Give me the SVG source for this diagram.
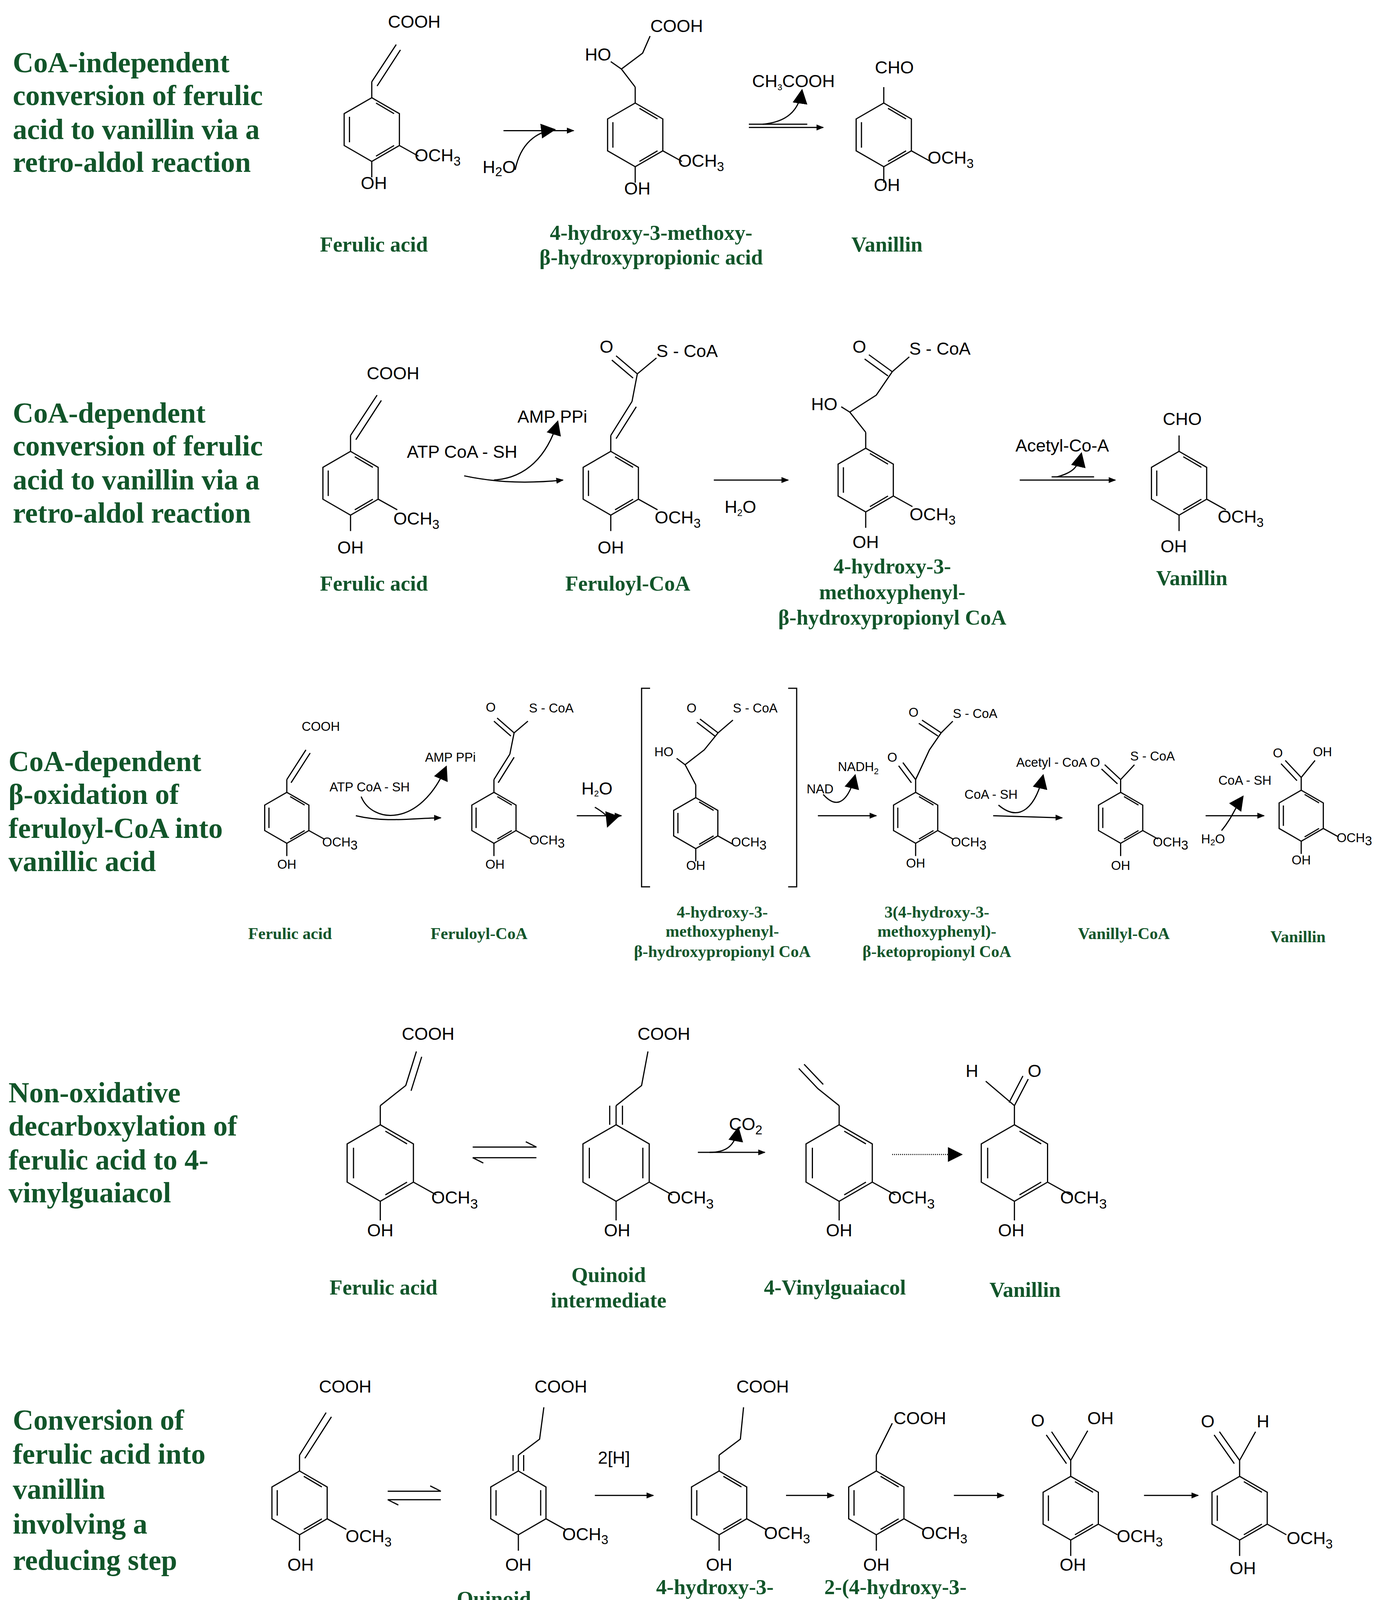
<svg xmlns="http://www.w3.org/2000/svg" width="3535" height="4259" viewBox="0 0 3535 4259">
<style>
.b{fill:none;stroke:#000;stroke-width:3;vector-effect:non-scaling-stroke}
.t{font-family:"Liberation Sans",Arial,sans-serif;font-size:16.5px;fill:#000;text-anchor:middle}
.st{text-anchor:start}
.s{font-size:12px}
.ti{font-family:"Liberation Serif","Times New Roman",serif;font-weight:bold;font-size:27px;fill:#12552a}
.l{font-family:"Liberation Serif","Times New Roman",serif;font-weight:bold;font-size:20px;fill:#12552a;text-anchor:middle}
.l2{font-size:15.5px}
.dot{stroke-dasharray:2 3}
</style>
<defs>
<marker id="ah" viewBox="0 0 10 10" refX="9" refY="5" markerWidth="7" markerHeight="7" orient="auto" markerUnits="userSpaceOnUse"><path d="M0,1 L10,5 L0,9 Z" fill="#000"/></marker>
<marker id="ah2" viewBox="0 0 10 10" refX="9" refY="5" markerWidth="14" markerHeight="14" orient="auto" markerUnits="userSpaceOnUse"><path d="M0,0 L10,5 L0,10 Z" fill="#000"/></marker>
<g id="bz">
<path class="b" d="M0,-30 L26,-15 L26,15 L0,30 L-26,15 L-26,-15 Z M-21,-12 L-21,12 M4,-25 L21,-15 M4,25 L21,15 M26,15 L44,25 M0,30 L0,45 M0,-30 L0,-45"/>
</g>
<g id="qd">
<path class="b" d="M0,-30 L26,-15 L26,15 L0,30 L-26,15 L-26,-15 Z M-21,-12 L-21,12 M21,-12 L21,12 M26,15 L44,25 M0,30 L0,45 M0,-30 L0,-45 M5,-30 L5,-45 M-5,-30 L-5,-45"/>
</g>
</defs>
<g transform="scale(2.719)">
<rect x="0" y="0" width="1300" height="1567" fill="#fff"/>
<g id="titles">
<text class="ti" x="12" y="68">CoA-independent</text><text class="ti" x="12" y="99">conversion of ferulic</text><text class="ti" x="12" y="131">acid to vanillin via a</text><text class="ti" x="12" y="162">retro-aldol reaction</text>
<text class="ti" x="12" y="398">CoA-dependent</text><text class="ti" x="12" y="429">conversion of ferulic</text><text class="ti" x="12" y="461">acid to vanillin via a</text><text class="ti" x="12" y="492">retro-aldol reaction</text>
<text class="ti" x="8" y="726">CoA-dependent</text><text class="ti" x="8" y="757">β-oxidation of</text><text class="ti" x="8" y="789">feruloyl-CoA into</text><text class="ti" x="8" y="820">vanillic acid</text>
<text class="ti" x="8" y="1038">Non-oxidative</text><text class="ti" x="8" y="1069">decarboxylation of</text><text class="ti" x="8" y="1101">ferulic acid to 4-</text><text class="ti" x="8" y="1132">vinylguaiacol</text>
<text class="ti" x="12" y="1346">Conversion of</text><text class="ti" x="12" y="1378">ferulic acid into</text><text class="ti" x="12" y="1411">vanillin</text><text class="ti" x="12" y="1444">involving a</text><text class="ti" x="12" y="1478">reducing step</text>
</g>
<!-- Row 1 -->
<g id="r1-ferulic"><use href="#bz" transform="translate(350,122)"/><path class="b" d="M350,77 L373,42 M355,81 L377,47"/><text class="t" x="390" y="26">COOH</text><text class="t" x="352" y="178">OH</text><text class="t" x="412" y="152">OCH<tspan class="s" dy="4">3</tspan></text></g>
<g id="r1-inter"><use href="#bz" transform="translate(598,127)"/><path class="b" d="M598,82 L585,65 M585,65 L575,58 M585,65 L605,50 L612,34"/><text class="t" x="563" y="57">HO</text><text class="t" x="637" y="30">COOH</text><text class="t" x="600" y="183">OH</text><text class="t" x="660" y="157">OCH<tspan class="s" dy="4">3</tspan></text></g>
<g id="r1-van"><use href="#bz" transform="translate(832,127)"/><text class="t" x="842" y="69">CHO</text><text class="t" x="835" y="180">OH</text><text class="t" x="895" y="154">OCH<tspan class="s" dy="4">3</tspan></text></g>
<text class="l" x="352" y="237">Ferulic acid</text><text class="l" x="613" y="226">4-hydroxy-3-methoxy-</text><text class="l" x="613" y="249">β-hydroxypropionic acid</text><text class="l" x="835" y="237">Vanillin</text>
<!-- Row 2 -->
<g id="r2-ferulic"><use href="#bz" transform="translate(330,455)"/><path class="b" d="M330,410 L355,372 M335,414 L359,377"/><text class="t" x="370" y="357">COOH</text><text class="t" x="330" y="521">OH</text><text class="t" x="392" y="494">OCH<tspan class="s" dy="4">3</tspan></text></g>
<g id="r2-feruloyl"><use href="#bz" transform="translate(575,455)"/><path class="b" d="M575,410 L595,378 M580,413 L599,383 M595,378 L600,352 M600,352 L580,335 M596,356 L576,339 M600,352 L618,337"/><text class="t" x="571" y="332">O</text><text class="t st" x="618" y="336">S - CoA</text><text class="t" x="575" y="521">OH</text><text class="t" x="638" y="493">OCH<tspan class="s" dy="4">3</tspan></text></g>
<g id="r2-inter"><use href="#bz" transform="translate(815,452)"/><path class="b" d="M815,407 L800,388 M800,388 L792,383 M800,388 L825,372 L840,350 M840,350 L818,334 M836,354 L814,338 M840,350 L856,336"/><text class="t" x="776" y="386">HO</text><text class="t" x="809" y="332">O</text><text class="t st" x="856" y="334">S - CoA</text><text class="t" x="815" y="516">OH</text><text class="t" x="878" y="490">OCH<tspan class="s" dy="4">3</tspan></text></g>
<g id="r2-van"><use href="#bz" transform="translate(1110,455)"/><text class="t" x="1113" y="400">CHO</text><text class="t" x="1105" y="520">OH</text><text class="t" x="1168" y="492">OCH<tspan class="s" dy="4">3</tspan></text></g>
<text class="l" x="352" y="556">Ferulic acid</text><text class="l" x="591" y="556">Feruloyl-CoA</text><text class="l" x="840" y="540">4-hydroxy-3-</text><text class="l" x="840" y="564">methoxyphenyl-</text><text class="l" x="840" y="588">β-hydroxypropionyl CoA</text><text class="l" x="1122" y="551">Vanillin</text>
<!-- Row 3 -->
<g id="r3-ferulic"><use href="#bz" transform="translate(270,770) scale(0.8)"/><path class="b" d="M270,734 L288,706 M274,737 L292,709"/><text class="t s" x="302" y="688">COOH</text><text class="t s" x="270" y="818">OH</text><text class="t s" x="320" y="797">OCH<tspan dy="3">3</tspan></text></g>
<g id="r3-feruloyl"><use href="#bz" transform="translate(465,770) scale(0.8)"/><path class="b" d="M465,734 L480,710 M469,737 L484,713 M480,710 L484,690 M484,690 L468,676 M481,693 L465,679 M484,690 L497,679"/><text class="t s" x="462" y="670">O</text><text class="t s st" x="498" y="671">S - CoA</text><text class="t s" x="466" y="818">OH</text><text class="t s" x="515" y="795">OCH<tspan dy="3">3</tspan></text></g>
<g id="r3-inter"><use href="#bz" transform="translate(655,775) scale(0.8)"/><path class="b" d="M655,739 L645,720 L637,714 M645,720 L663,706 L676,690 M676,690 L659,677 M673,693 L656,680 M676,690 L690,678"/><text class="t s" x="625" y="712">HO</text><text class="t s" x="651" y="671">O</text><text class="t s st" x="690" y="671">S - CoA</text><text class="t s" x="655" y="819">OH</text><text class="t s" x="705" y="797">OCH<tspan dy="3">3</tspan></text><path class="b" d="M612,648 L604,648 L604,835 L612,835 M742,648 L750,648 L750,835 L742,835"/></g>
<g id="r3-keto"><use href="#bz" transform="translate(862,770) scale(0.8)"/><path class="b" d="M862,734 L850,718 M858,737 L846,721 M862,734 L875,706 L886,690 M886,690 L868,678 M883,693 L865,681 M886,690 L897,679"/><text class="t s" x="840" y="717">O</text><text class="t s" x="860" y="675">O</text><text class="t s st" x="897" y="676">S - CoA</text><text class="t s" x="862" y="817">OH</text><text class="t s" x="912" y="797">OCH<tspan dy="3">3</tspan></text></g>
<g id="r3-vanillyl"><use href="#bz" transform="translate(1055,770) scale(0.8)"/><path class="b" d="M1055,734 L1040,720 M1052,738 L1037,724 M1055,734 L1068,720"/><text class="t s" x="1031" y="722">O</text><text class="t s st" x="1064" y="716">S - CoA</text><text class="t s" x="1055" y="819">OH</text><text class="t s" x="1102" y="797">OCH<tspan dy="3">3</tspan></text></g>
<g id="r3-van"><use href="#bz" transform="translate(1225,768) scale(0.8)"/><path class="b" d="M1225,732 L1210,716 M1221,735 L1206,719 M1225,732 L1238,716"/><text class="t s" x="1203" y="713">O</text><text class="t s st" x="1236" y="712">OH</text><text class="t s" x="1225" y="814">OH</text><text class="t s" x="1275" y="793">OCH<tspan dy="3">3</tspan></text></g>
<g><text class="l l2" x="273" y="884">Ferulic acid</text><text class="l l2" x="451" y="884">Feruloyl-CoA</text><text class="l l2" x="680" y="864">4-hydroxy-3-</text><text class="l l2" x="680" y="882">methoxyphenyl-</text><text class="l l2" x="680" y="901">β-hydroxypropionyl CoA</text><text class="l l2" x="882" y="864">3(4-hydroxy-3-</text><text class="l l2" x="882" y="882">methoxyphenyl)-</text><text class="l l2" x="882" y="901">β-ketopropionyl CoA</text><text class="l l2" x="1058" y="884">Vanillyl-CoA</text><text class="l l2" x="1222" y="887">Vanillin</text></g>
<!-- Row 4 -->
<g id="r4-ferulic"><use href="#bz" transform="translate(358,1095) scale(1.2)"/><path class="b" d="M358,1041 L382,1022 L392,990 M387,1027 L397,995"/><text class="t" x="403" y="979" font-size="18">COOH</text><text class="t" x="358" y="1164" font-size="18">OH</text><text class="t" x="428" y="1133" font-size="18">OCH<tspan font-size="13" dy="5">3</tspan></text></g>
<g id="r4-quinoid"><use href="#qd" transform="translate(580,1095) scale(1.2)"/><path class="b" d="M580,1041 L604,1022 L610,990"/><text class="t" x="625" y="979" font-size="18">COOH</text><text class="t" x="581" y="1164" font-size="18">OH</text><text class="t" x="650" y="1133" font-size="18">OCH<tspan font-size="13" dy="5">3</tspan></text></g>
<g id="r4-vinyl"><use href="#bz" transform="translate(790,1095) scale(1.2)"/><path class="b" d="M790,1041 L770,1025 M770,1025 L752,1006 M775,1021 L757,1002"/><text class="t" x="790" y="1164" font-size="18">OH</text><text class="t" x="858" y="1133" font-size="18">OCH<tspan font-size="13" dy="5">3</tspan></text></g>
<g id="r4-van"><use href="#bz" transform="translate(955,1095) scale(1.2)"/><path class="b" d="M955,1041 L928,1018 M955,1041 L968,1016 M950,1038 L963,1013"/><text class="t" x="915" y="1014" font-size="18">H</text><text class="t" x="974" y="1014" font-size="18">O</text><text class="t" x="952" y="1164" font-size="18">OH</text><text class="t" x="1020" y="1133" font-size="18">OCH<tspan font-size="13" dy="5">3</tspan></text></g>
<text class="l" x="361" y="1219">Ferulic acid</text><text class="l" x="573" y="1207">Quinoid</text><text class="l" x="573" y="1231">intermediate</text><text class="l" x="786" y="1219">4-Vinylguaiacol</text><text class="l" x="965" y="1221">Vanillin</text>
<!-- Row 5 -->
<g id="r5-ferulic"><use href="#bz" transform="translate(282,1415)"/><path class="b" d="M282,1370 L307,1330 M287,1373 L312,1334"/><text class="t" x="325" y="1311">COOH</text><text class="t" x="283" y="1479">OH</text><text class="t" x="347" y="1452">OCH<tspan class="s" dy="4">3</tspan></text></g>
<g id="r5-quinoid"><use href="#qd" transform="translate(488,1415)"/><path class="b" d="M488,1370 L508,1355 L512,1325"/><text class="t" x="528" y="1311">COOH</text><text class="t" x="488" y="1479">OH</text><text class="t" x="551" y="1450">OCH<tspan class="s" dy="4">3</tspan></text></g>
<g id="r5-propionic"><use href="#bz" transform="translate(677,1415)"/><path class="b" d="M677,1370 L697,1355 L700,1325"/><text class="t" x="718" y="1311">COOH</text><text class="t" x="677" y="1479">OH</text><text class="t" x="741" y="1449">OCH<tspan class="s" dy="4">3</tspan></text></g>
<g id="r5-acetic"><use href="#bz" transform="translate(825,1415)"/><path class="b" d="M825,1370 L840,1340"/><text class="t" x="866" y="1341">COOH</text><text class="t" x="825" y="1479">OH</text><text class="t" x="889" y="1449">OCH<tspan class="s" dy="4">3</tspan></text></g>
<g id="r5-vanillic"><use href="#bz" transform="translate(1008,1420)"/><path class="b" d="M1008,1375 L990,1348 M1004,1378 L985,1351 M1008,1375 L1024,1347"/><text class="t" x="977" y="1343">O</text><text class="t" x="1036" y="1341">OH</text><text class="t" x="1010" y="1479">OH</text><text class="t" x="1073" y="1452">OCH<tspan class="s" dy="4">3</tspan></text></g>
<g id="r5-van"><use href="#bz" transform="translate(1167,1420)"/><path class="b" d="M1167,1375 L1148,1348 M1162,1378 L1143,1351 M1167,1375 L1182,1348"/><text class="t" x="1137" y="1344">O</text><text class="t" x="1189" y="1344">H</text><text class="t" x="1170" y="1482">OH</text><text class="t" x="1233" y="1454">OCH<tspan class="s" dy="4">3</tspan></text></g>
<text class="l" x="276" y="1525">Ferulic acid</text><text class="l" x="465" y="1512">Quinoid</text><text class="l" x="465" y="1534">intermediate</text><text class="l" x="673" y="1501">4-hydroxy-3-</text><text class="l" x="673" y="1523">methoxyphenyl</text><text class="l" x="673" y="1545">propionic acid</text><text class="l" x="843" y="1501">2-(4-hydroxy-3-</text><text class="l" x="843" y="1523">methoxy phenyl)</text><text class="l" x="843" y="1545">acetic acid</text><text class="l" x="1021" y="1525">Vanillic acid</text><text class="l" x="1203" y="1525">Vanillin</text>
<g id="connectors">
<path class="b" marker-end="url(#ah)" d="M474,123 L540,123"/><path class="b" marker-end="url(#ah2)" d="M485,160 C490,135 505,124 522,122"/><text class="t" x="470" y="163" font-size="13">H<tspan class="s" dy="3">2</tspan><tspan dy="-3">O</tspan></text>
<path class="b" marker-end="url(#ah)" d="M705,120 L775,120"/><path class="b" d="M705,117 L760,117"/><path class="b" marker-end="url(#ah2)" d="M718,117 C740,115 752,105 755,85"/><text class="t" x="747" y="82" font-size="11">CH<tspan font-size="8" dy="3">3</tspan><tspan dy="-3">COOH</tspan></text>
<path class="b" marker-end="url(#ah)" d="M437,448 C470,455 500,455 530,452"/><path class="b" marker-end="url(#ah2)" d="M465,452 C495,450 515,430 525,397"/><text class="t" x="435" y="431" font-size="14">ATP CoA - SH</text><text class="t" x="520" y="398" font-size="14">AMP PPi</text>
<path class="b" marker-end="url(#ah)" d="M672,452 L742,452"/><text class="t" x="697" y="483" font-size="12">H<tspan font-size="9" dy="3">2</tspan><tspan dy="-3">O</tspan></text>
<path class="b" marker-end="url(#ah)" d="M960,452 L1050,452"/><path class="b" d="M990,449 L1030,449"/><path class="b" marker-end="url(#ah2)" d="M995,449 C1010,445 1015,440 1018,427"/><text class="t" x="1000" y="425" font-size="11">Acetyl-Co-A</text>
<path class="b" marker-end="url(#ah)" d="M335,768 C365,775 390,770 415,770"/><path class="b" marker-end="url(#ah2)" d="M340,750 C350,775 395,780 420,722"/><text class="t s" x="348" y="745">ATP CoA - SH</text><text class="t s" x="424" y="717">AMP PPi</text>
<path class="b" marker-end="url(#ah)" d="M543,768 L585,768"/><path class="b" marker-end="url(#ah2)" d="M560,760 C570,766 575,770 572,778"/><text class="t" x="562" y="748" font-size="10">H<tspan font-size="8" dy="2">2</tspan><tspan dy="-2">O</tspan></text>
<path class="b" marker-end="url(#ah)" d="M770,768 L825,768"/><path class="b" marker-end="url(#ah2)" d="M775,748 C790,765 800,750 805,730"/><text class="t s" x="772" y="747">NAD</text><text class="t s" x="808" y="726">NADH<tspan font-size="8" dy="3">2</tspan></text>
<path class="b" marker-end="url(#ah)" d="M935,768 L1000,770"/><path class="b" marker-end="url(#ah2)" d="M940,758 C960,775 975,760 982,730"/><text class="t s" x="933" y="752">CoA - SH</text><text class="t s" x="990" y="722">Acetyl - CoA</text>
<path class="b" marker-end="url(#ah)" d="M1135,768 L1190,768"/><path class="b" marker-end="url(#ah2)" d="M1150,782 C1160,770 1163,760 1170,750"/><text class="t s" x="1172" y="739">CoA - SH</text><text class="t s" x="1142" y="794">H<tspan font-size="8" dy="2">2</tspan><tspan dy="-2">O</tspan></text>
<path class="b" d="M445,1080 L505,1080 L495,1075 M445,1090 L505,1090 M445,1090 L455,1095"/>
<path class="b" marker-end="url(#ah)" d="M657,1085 L720,1085"/><path class="b" marker-end="url(#ah2)" d="M668,1085 C685,1085 692,1078 695,1062"/><text class="t" x="702" y="1064" font-size="17">CO<tspan font-size="12" dy="4">2</tspan></text>
<path class="b dot" marker-end="url(#ah2)" d="M840,1087 L905,1087"/>
<path class="b" d="M365,1404 L415,1404 L405,1399 M365,1412 L415,1412 M365,1412 L375,1417"/>
<path class="b" marker-end="url(#ah)" d="M560,1408 L615,1408"/><text class="t" x="578" y="1378">2[H]</text>
<path class="b" marker-end="url(#ah)" d="M740,1408 L785,1408"/>
<path class="b" marker-end="url(#ah)" d="M898,1408 L945,1408"/>
<path class="b" marker-end="url(#ah)" d="M1077,1408 L1128,1408"/>
</g>
</g>
</svg>
